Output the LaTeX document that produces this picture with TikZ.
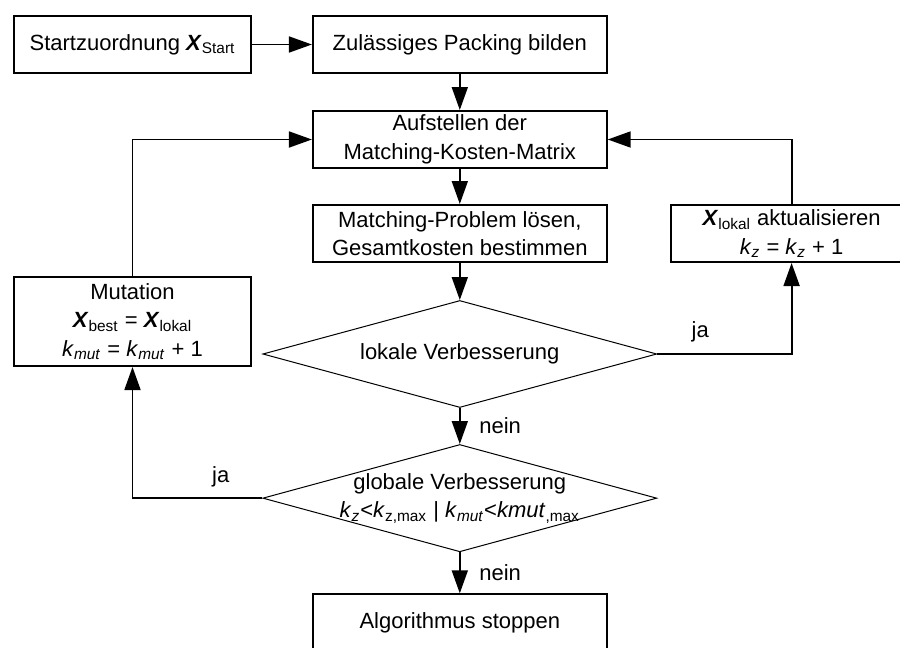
\documentclass[tikz,border=0pt]{standalone}
\usepackage{fontspec}
\setmainfont{Liberation Sans}
\usetikzlibrary{positioning,arrows.meta,shapes.geometric}
\newcommand{\vecX}{\textbf{\textit{X}}}
\newcommand{\idx}[2]{\textit{#1}\textsubscript{#2}}

\begin{document}
\begin{tikzpicture}[
  font=\fontsize{11}{14.25}\selectfont,
  box/.style={draw,line width=0.9pt,minimum height=28.6pt,minimum width=147pt,align=center,inner sep=1.5pt},
  decision/.style={draw,diamond,line width=0.5pt,minimum width=197pt,minimum height=53.5pt,aspect=3.65,inner xsep=-2pt,inner ysep=-1.5pt,align=center},
  edge/.style={-{Triangle[length=11.5pt,width=8pt]},line width=0.9pt}
]
\useasboundingbox (0,0) rectangle (450pt,-324pt);
\clip (0,0) rectangle (450pt,-324pt);

\node[box,minimum width=118.5pt] (start) at (66.25pt,-22.25pt) {Startzuordnung \vecX\textsubscript{Start}};
\node[box,right=30pt of start] (pack) {Zulässiges Packing bilden};
\node[box,below=18pt of pack] (matrix) {Aufstellen der\\Matching-Kosten-Matrix};
\node[box,below=17.5pt of matrix] (solve) {Matching-Problem lösen,\\Gesamtkosten bestimmen};
\node[decision,below=18.5pt of solve] (lokal) {lokale Verbesserung};
\node[decision,below=18pt of lokal] (glob) {globale Verbesserung\\
  \idx{k}{\textit{z}}<\idx{k}{z,max} | \idx{k}{\textit{mut}}<\textit{kmut}\textsubscript{,max}};
\node[box,below=20.5pt of glob] (stop) {Algorithmus stoppen};
\node[box,right=31pt of solve,minimum width=121pt] (upd) {\vecX\textsubscript{lokal} aktualisieren\\\idx{k}{\textit{z}} = \idx{k}{\textit{z}} + 1};
\node[box,below=101pt of start,minimum width=118.5pt,minimum height=44.6pt] (mut) {Mutation\\\vecX\textsubscript{best} = \vecX\textsubscript{lokal}\\\idx{k}{\textit{mut}} = \idx{k}{\textit{mut}} + 1};

\draw[edge] (start) -- (pack);
\draw[edge] (pack) -- (matrix);
\draw[edge] (matrix) -- (solve);
\draw[edge] (solve) -- (lokal);
\draw[edge] (lokal) -- node[right=6pt] {nein} (glob);
\draw[edge] (glob) -- node[right=6pt] {nein} (stop);
\draw[edge] (lokal.east) -| node[pos=0.16,above=2pt] {ja} (upd.south);
\draw[edge] (upd.north) |- (matrix.east);
\draw[edge] (glob.west) -| node[pos=0.16,above=2pt] {ja} (mut.south);
\draw[edge] (mut.north) |- (matrix.west);
\end{tikzpicture}
\end{document}
